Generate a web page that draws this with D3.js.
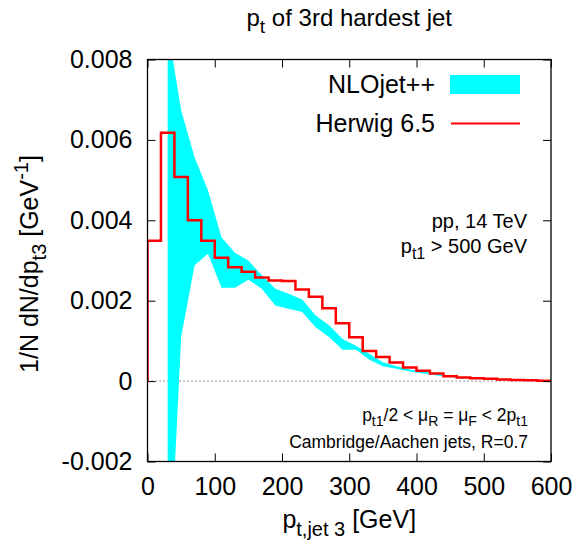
<!DOCTYPE html>
<html>
<head>
<meta charset="utf-8">
<script src="https://cdn.jsdelivr.net/npm/d3@7"></script>
<style>
  html, body { margin: 0; padding: 0; background: #fff; }
  svg { display: block; }
  text { font-family: "Liberation Sans", Arial, Helvetica, sans-serif; fill: #000; }
</style>
</head>
<body>
<svg id="chart" width="576" height="545"></svg>
<script>
// ---------------- data ----------------
const binEdges = [0,20,40,60,80,100,120,140,160,180,200,220,240,260,280,300,320,340,360,380,400,420,440,460,480,500,520,540,560,580,600];
const herwigValues = [0.00349,0.00618,0.00508,0.00400,0.00349,0.00307,0.00283,0.00272,0.00258,0.00250,
                      0.00249,0.00228,0.00210,0.00181,0.00144,0.00109,0.00075,0.00060,0.00046,0.00034,
                      0.00026,0.00019,0.00012,0.00009,0.00007,0.00006,0.00004,0.00003,0.00002,0.00001];
const nloX     = [30,50,70,90,110,130,150,170,190,210,230,250,270,290,310,330,350,370,390,410,430,450,470];
const nloUpper = [0.0088,0.00674,0.00557,0.00474,0.00358,0.00319,0.00300,0.00263,0.00230,0.00217,0.00203,0.00163,
                  0.00139,0.00105,0.00088,0.00068,0.00047,0.00037,0.00029,0.00023,0.00018,0.00012,0.00008];
const nloLower = [-0.0058,0.00109,0.00288,0.00317,0.00232,0.00232,0.00252,0.00230,0.00188,0.00180,0.00172,0.00134,
                  0.00110,0.00078,0.00078,0.00053,0.00037,0.00031,0.00024,0.00019,0.00014,0.00010,0.00006];
const xTicks = [0,100,200,300,400,500,600];
const xTickLabels = ["0","100","200","300","400","500","600"];
const yTicks = [-0.002,0,0.002,0.004,0.006,0.008];
const yTickLabels = ["-0.002","0","0.002","0.004","0.006","0.008"];
const seriesNames = ["NLOjet++","Herwig 6.5"];

// ---------------- layout ----------------
const L = 147.5, R = 551, T = 59.5, B = 461.5;
const svg = d3.select("#chart");
svg.append("rect").attr("width",576).attr("height",545).attr("fill","#fff");

const x = d3.scaleLinear().domain([0,600]).range([L,R]);
const y = d3.scaleLinear().domain([-0.002,0.008]).range([B,T]);

svg.append("defs").append("clipPath").attr("id","clip")
  .append("rect").attr("x",L).attr("y",T).attr("width",R-L).attr("height",B-T);

const plot = svg.append("g").attr("clip-path","url(#clip)");

// zero line
plot.append("line")
  .attr("x1",x(0)).attr("x2",x(600)).attr("y1",y(0)).attr("y2",y(0))
  .attr("stroke","#555").attr("stroke-width",1).attr("stroke-dasharray","1.2,2.8");

// NLO band
const band = nloX.map((v,i)=>({x:v, lo:nloLower[i], hi:nloUpper[i]}));
plot.append("path").datum(band)
  .attr("fill","#00ffff").attr("stroke","none")
  .attr("d", d3.area().x(d=>x(d.x)).y0(d=>y(d.lo)).y1(d=>y(d.hi)));

// Herwig histogram
const hpts = [{x:0,v:0}].concat(herwigValues.map((v,i)=>({x:binEdges[i], v:v})), [{x:600, v:herwigValues[herwigValues.length-1]}]);
plot.append("path").datum(hpts)
  .attr("fill","none").attr("stroke","#ff0000").attr("stroke-width",2.5)
  .attr("d", d3.line().x(d=>x(d.x)).y(d=>y(d.v)).curve(d3.curveStepAfter));

// axes
const fs = 25;
const ax = (g)=>{ g.select(".domain").remove(); g.selectAll("line").attr("stroke","#000").attr("stroke-width",1); };
svg.append("g").attr("transform",`translate(${L},0)`)
  .call(d3.axisLeft(y).tickValues(yTicks).tickSize(-8).tickPadding(15).tickFormat((d,i)=>yTickLabels[i]))
  .call(ax).selectAll("text").attr("font-size",fs).attr("font-family",null);
svg.append("g").attr("transform",`translate(${R},0)`)
  .call(d3.axisRight(y).tickValues(yTicks).tickSize(-8).tickFormat(""))
  .call(ax);
svg.append("g").attr("transform",`translate(0,${B})`)
  .call(d3.axisBottom(x).tickValues(xTicks).tickSize(-8).tickPadding(16).tickFormat((d,i)=>xTickLabels[i]))
  .call(ax).selectAll("text").attr("font-size",fs).attr("font-family",null);
svg.append("g").attr("transform",`translate(0,${T})`)
  .call(d3.axisTop(x).tickValues(xTicks).tickSize(-8).tickFormat(""))
  .call(ax);

// frame
svg.append("rect").attr("x",L).attr("y",T).attr("width",R-L).attr("height",B-T)
  .attr("fill","none").attr("stroke","#000").attr("stroke-width",1.3);

// rich text helper: parts = [[text, kind]] kind: n/sub/sup
function rich(g, px, py, size, anchor, parts, rot) {
  const t = g.append("text").attr("x",px).attr("y",py).attr("font-size",size).attr("text-anchor",anchor);
  if (rot) t.attr("transform",`rotate(${rot},${px},${py})`);
  let off = 0;
  parts.forEach(([s,k])=>{
    let target = 0, fsz = size;
    if (k==="sub") { target = 0.3*size; fsz = 0.8*size; }
    if (k==="sup") { target = -0.42*size; fsz = 0.8*size; }
    t.append("tspan").attr("dy", target-off).attr("font-size",fsz).text(s);
    off = target;
  });
  return t;
}

// title
rich(svg, (L+R)/2, 26, 24, "middle", [["p","n"],["t","sub"],[" of 3rd hardest jet","n"]]);
// x label
rich(svg, (L+R)/2, 528, 25, "middle", [["p","n"],["t,jet 3","sub"],[" [GeV]","n"]]);
// y label
rich(svg, 38, 264, 25, "middle", [["1/N dN/dp","n"],["t3","sub"],[" [GeV","n"],["-1","sup"],["]","n"]], -90);

// legend
svg.append("text").attr("x",435).attr("y",93).attr("font-size",25).attr("text-anchor","end").text(seriesNames[0]);
svg.append("rect").attr("x",450).attr("y",75).attr("width",70).attr("height",19).attr("fill","#00ffff");
svg.append("text").attr("x",435).attr("y",131.5).attr("font-size",25).attr("text-anchor","end").text(seriesNames[1]);
svg.append("line").attr("x1",451).attr("x2",520).attr("y1",123.5).attr("y2",123.5).attr("stroke","#ff0000").attr("stroke-width",2);

// annotations
rich(svg, 527, 228, 20, "end", [["pp, 14 TeV","n"]]);
rich(svg, 527, 253, 20, "end", [["p","n"],["t1","sub"],[" > 500 GeV","n"]]);
rich(svg, 528, 421, 17.5, "end", [["p","n"],["t1","sub"],["/2 < μ","n"],["R","sub"],[" = μ","n"],["F","sub"],[" < 2p","n"],["t1","sub"]]);
rich(svg, 528, 448, 17.5, "end", [["Cambridge/Aachen jets, R=0.7","n"]]);
</script>
</body>
</html>
